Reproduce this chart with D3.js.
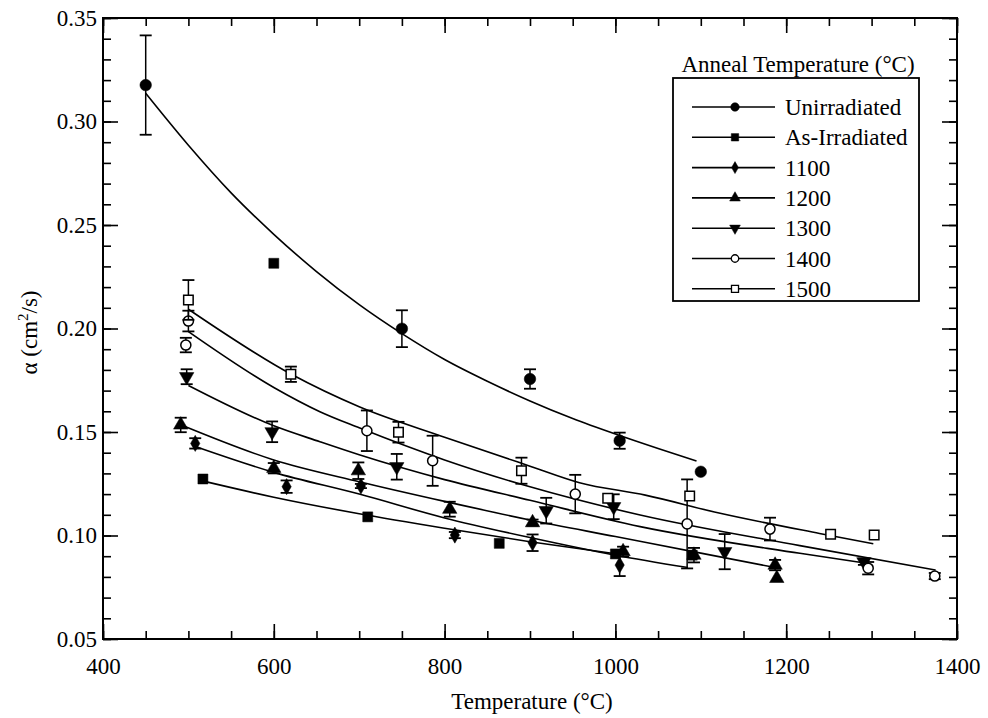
<!DOCTYPE html>
<html>
<head>
<meta charset="utf-8">
<script src="https://cdn.jsdelivr.net/npm/d3@7.9.0/dist/d3.min.js"></script>
<style>
  body { margin: 0; background: #fff; }
  svg text { font-family: "Liberation Serif", "Times New Roman", serif; fill: #000; }
</style>
</head>
<body>
<svg id="chart" width="988" height="718"></svg>
<script>
// series names (legend order)
const seriesNames = ["Unirradiated", "As-Irradiated", "1100", "1200", "1300", "1400", "1500"];

// measured points: temperature, alpha, error
const unirrT = [450, 750, 900, 1005, 1100];
const unirrA = [0.3176, 0.1999, 0.1756, 0.1458, 0.1308];
const unirrE = [0.024, 0.0089, 0.0047, 0.0039, 0];

const asIrrT = [517, 600, 710, 864, 1000, 1090];
const asIrrA = [0.1273, 0.2315, 0.109, 0.0962, 0.0911, 0.0905];
const asIrrE = [0, 0, 0, 0, 0, 0];

const a1100T = [508, 615, 702, 812, 903, 1005];
const a1100A = [0.1445, 0.1236, 0.1239, 0.1002, 0.0965, 0.0857];
const a1100E = [0.0025, 0.003, 0.001, 0.0015, 0.004, 0.0053];

const a1200T = [491, 600, 699, 806, 903, 1009, 1092, 1187, 1189];
const a1200A = [0.1534, 0.1325, 0.1313, 0.1127, 0.1062, 0.0922, 0.0905, 0.0857, 0.0793];
const a1200E = [0.0035, 0.0025, 0.004, 0.0036, 0.0015, 0.0024, 0.0035, 0.0025, 0];

const a1300T = [498, 598, 744, 919, 998, 1128, 1291];
const a1300A = [0.1767, 0.1501, 0.1332, 0.112, 0.1139, 0.0922, 0.0873];
const a1300E = [0.0036, 0.005, 0.0062, 0.0062, 0.006, 0.0085, 0.0015];

const a1400T = [500, 497, 709, 786, 953, 1084, 1181, 1296, 1374];
const a1400A = [0.2036, 0.192, 0.1506, 0.1361, 0.12, 0.1056, 0.1031, 0.0842, 0.0804];
const a1400E = [0.005, 0.0035, 0.0098, 0.0121, 0.0093, 0.0215, 0.0055, 0.003, 0.0015];

const a1500T = [500, 620, 746, 890, 991, 1087, 1252, 1303];
const a1500A = [0.2138, 0.1779, 0.1499, 0.1313, 0.118, 0.1191, 0.1006, 0.1002];
const a1500E = [0.0096, 0.0037, 0.005, 0.0063, 0, 0, 0, 0];

// fitted curves
const unirrFitT = [450, 500, 550, 600, 650, 700, 750, 800, 850, 900, 950, 1000, 1050, 1095];
const unirrFitA = [0.3136, 0.2885, 0.2655, 0.2455, 0.2275, 0.2115, 0.1975, 0.185, 0.1745, 0.165, 0.1565, 0.149, 0.142, 0.136];
const asIrrFitT = [515, 600, 700, 800, 900, 1000];
const asIrrFitA = [0.1265, 0.1185, 0.1105, 0.1035, 0.097, 0.0912];
const a1100FitT = [508, 600, 700, 800, 900, 1000, 1085];
const a1100FitA = [0.143, 0.1305, 0.12, 0.1085, 0.099, 0.0905, 0.0845];
const a1200FitT = [491, 600, 700, 800, 900, 1000, 1100, 1187];
const a1200FitA = [0.1535, 0.1365, 0.126, 0.1165, 0.1075, 0.0995, 0.0915, 0.0845];
const a1300FitT = [500, 600, 654, 700, 800, 900, 1029, 1216, 1290];
const a1300FitA = [0.1725, 0.153, 0.1453, 0.139, 0.127, 0.117, 0.1043, 0.0914, 0.0868];
const a1400FitT = [500, 600, 654, 700, 800, 900, 1029, 1216, 1375];
const a1400FitA = [0.1985, 0.1715, 0.1598, 0.152, 0.1365, 0.1235, 0.1099, 0.0951, 0.0833];
const a1500FitT = [500, 620, 700, 800, 900, 958, 1035, 1120, 1239, 1302];
const a1500FitA = [0.2093, 0.178, 0.1622, 0.1475, 0.1335, 0.1255, 0.1195, 0.111, 0.101, 0.096];

const xTicks = [400, 600, 800, 1000, 1200, 1400];
const yTicks = [0.05, 0.10, 0.15, 0.20, 0.25, 0.30, 0.35];

const svg = d3.select("#chart");
const pLeft = 103, pRight = 957, pTop = 18, pBottom = 639;

const x = d3.scaleLinear().domain([400, 1400]).range([pLeft, pRight]);
const y = d3.scaleLinear().domain([0.05, 0.35]).range([pBottom, pTop]);

const FONT = 23;

// pack series
const pts = (T, A, E) => T.map((t, i) => ({ t: t, a: A[i], e: E[i] }));
const fit = (T, A) => T.map((t, i) => ({ t: t, a: A[i] }));
const series = [
  { name: seriesNames[0], sym: d3.symbolCircle, size: 105, fill: true, data: pts(unirrT, unirrA, unirrE), fit: fit(unirrFitT, unirrFitA) },
  { name: seriesNames[1], sym: d3.symbolSquare, size: 100, fill: true, data: pts(asIrrT, asIrrA, asIrrE), fit: fit(asIrrFitT, asIrrFitA) },
  { name: seriesNames[2], sym: d3.symbolDiamond, size: 75, fill: true, data: pts(a1100T, a1100A, a1100E), fit: fit(a1100FitT, a1100FitA) },
  { name: seriesNames[3], sym: d3.symbolTriangle, size: 90, fill: true, data: pts(a1200T, a1200A, a1200E), fit: fit(a1200FitT, a1200FitA) },
  { name: seriesNames[4], sym: d3.symbolTriangle, size: 90, fill: true, down: true, data: pts(a1300T, a1300A, a1300E), fit: fit(a1300FitT, a1300FitA) },
  { name: seriesNames[5], sym: d3.symbolCircle, size: 80, fill: false, data: pts(a1400T, a1400A, a1400E), fit: fit(a1400FitT, a1400FitA) },
  { name: seriesNames[6], sym: d3.symbolSquare, size: 90, fill: false, data: pts(a1500T, a1500A, a1500E), fit: fit(a1500FitT, a1500FitA) }
];

// axes with inward ticks on all four sides
function axisGroup(axis, tx, ty) {
  const g = svg.append("g").attr("transform", `translate(${tx},${ty})`).call(axis);
  g.select(".domain").remove();
  g.selectAll("line").attr("stroke", "#000").attr("stroke-width", 1.6);
  g.selectAll("text").attr("font-size", FONT).style("font-family", '"Liberation Serif", serif');
  return g;
}
const xMinor = d3.range(400, 1401, 50);
const yMinor = d3.range(0, 31).map(i => 0.05 + i * 0.01);

axisGroup(d3.axisBottom(x).tickValues(xMinor).tickSize(-8).tickFormat(""), 0, pBottom);
axisGroup(d3.axisBottom(x).tickValues(xTicks).tickSize(-15).tickPadding(19).tickFormat(d3.format("d")), 0, pBottom);
axisGroup(d3.axisTop(x).tickValues(xMinor).tickSize(-8).tickFormat(""), 0, pTop);
axisGroup(d3.axisTop(x).tickValues(xTicks).tickSize(-15).tickFormat(""), 0, pTop);
axisGroup(d3.axisLeft(y).tickValues(yMinor).tickSize(-8).tickFormat(""), pLeft, 0);
axisGroup(d3.axisLeft(y).tickValues(yTicks).tickSize(-15).tickPadding(6).tickFormat(d3.format(".2f")), pLeft, 0);
axisGroup(d3.axisRight(y).tickValues(yMinor).tickSize(-8).tickFormat(""), pRight, 0);
axisGroup(d3.axisRight(y).tickValues(yTicks).tickSize(-15).tickFormat(""), pRight, 0);

// frame
svg.append("rect")
  .attr("x", pLeft).attr("y", pTop)
  .attr("width", pRight - pLeft).attr("height", pBottom - pTop)
  .attr("fill", "none").attr("stroke", "#000").attr("stroke-width", 2);

// axis titles
svg.append("text")
  .attr("x", (pLeft + pRight) / 2 + 2).attr("y", 709)
  .attr("text-anchor", "middle").attr("font-size", FONT)
  .text("Temperature (°C)");

const yl = svg.append("text")
  .attr("transform", `translate(37,${(pTop + pBottom) / 2 + 4}) rotate(-90)`)
  .attr("text-anchor", "middle").attr("font-size", FONT);
yl.append("tspan").text("α (cm");
yl.append("tspan").attr("font-size", 15).attr("dy", -9).text("2");
yl.append("tspan").attr("dy", 9).text("/s)");

// fitted lines
const line = d3.line().x(d => x(d.t)).y(d => y(d.a)).curve(d3.curveMonotoneX);
const plot = svg.append("g");
series.forEach(s => {
  plot.append("path").attr("d", line(s.fit))
    .attr("fill", "none").attr("stroke", "#000").attr("stroke-width", 1.6);
});

// error bars and markers
series.forEach(s => {
  const g = plot.append("g");
  s.data.filter(d => d.e > 0).forEach(d => {
    const cx = x(d.t), y1 = y(d.a + d.e), y2 = y(d.a - d.e);
    g.append("line").attr("x1", cx).attr("x2", cx).attr("y1", y1).attr("y2", y2)
      .attr("stroke", "#000").attr("stroke-width", 1.5);
    [y1, y2].forEach(yy => g.append("line")
      .attr("x1", cx - 6).attr("x2", cx + 6).attr("y1", yy).attr("y2", yy)
      .attr("stroke", "#000").attr("stroke-width", 1.8));
  });
  g.selectAll("path.mk").data(s.data).join("path")
    .attr("class", "mk")
    .attr("d", d3.symbol().type(s.sym).size(s.size))
    .attr("transform", d => `translate(${x(d.t)},${y(d.a)})${s.down ? " rotate(180)" : ""}`)
    .attr("fill", s.fill ? "#000" : "#fff")
    .attr("stroke", "#000").attr("stroke-width", s.fill ? 0.5 : 1.5);
});

// legend
svg.append("text")
  .attr("x", 798).attr("y", 72)
  .attr("text-anchor", "middle").attr("font-size", FONT)
  .text("Anneal Temperature (°C)");
svg.append("rect")
  .attr("x", 673).attr("y", 78).attr("width", 246).attr("height", 223)
  .attr("fill", "#fff").attr("stroke", "#000").attr("stroke-width", 1.8);

const lg = svg.append("g");
series.forEach((s, i) => {
  const ly = 107 + i * 30.3;
  lg.append("line").attr("x1", 692).attr("x2", 775).attr("y1", ly).attr("y2", ly)
    .attr("stroke", "#000").attr("stroke-width", 1.6);
  lg.append("path")
    .attr("d", d3.symbol().type(s.sym).size(s.size * 0.55))
    .attr("transform", `translate(735,${ly})${s.down ? " rotate(180)" : ""}`)
    .attr("fill", s.fill ? "#000" : "#fff")
    .attr("stroke", "#000").attr("stroke-width", s.fill ? 0.5 : 1.3);
  lg.append("text")
    .attr("x", 785).attr("y", ly).attr("dy", "0.35em")
    .attr("font-size", FONT)
    .text(s.name);
});
</script>
</body>
</html>
